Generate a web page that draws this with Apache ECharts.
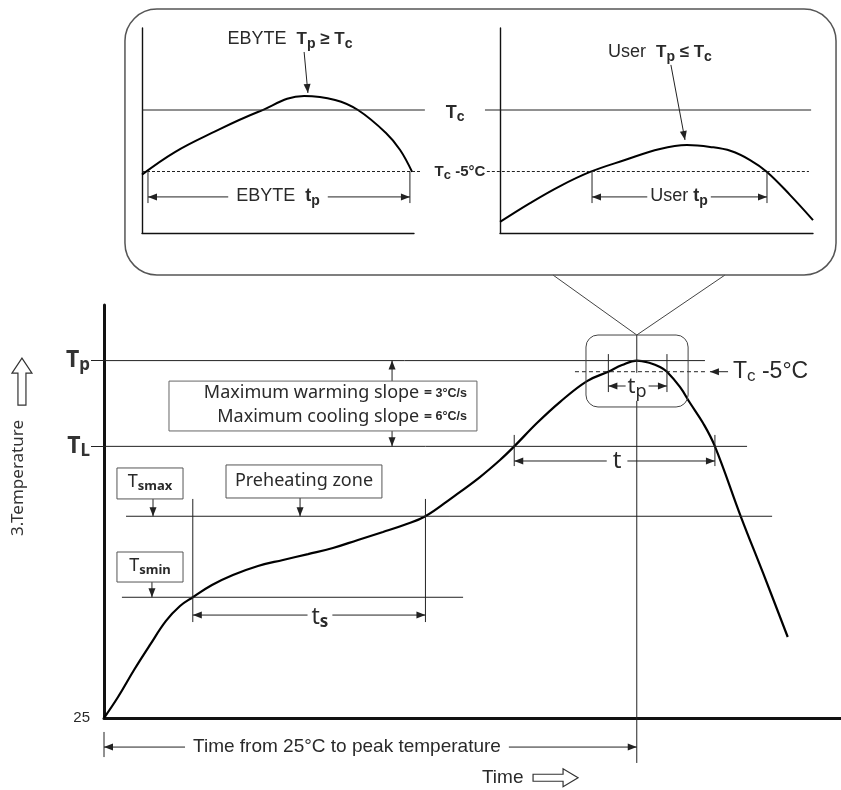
<!DOCTYPE html>
<html>
<head>
<meta charset="utf-8">
<script src="https://cdn.jsdelivr.net/npm/echarts@6/dist/echarts.min.js"></script>
<style>html,body{margin:0;padding:0;background:#fff}#c{width:841px;height:790px}</style>
</head>
<body>
<div id="c"></div>
<script>
// ---------- DATA ----------
// Main reflow profile (time in s, temperature in °C, schematic)
const mainTime = [0, 7.9, 16.9, 25.9, 34.9, 42.8, 50, 60.8, 72.6, 86.7, 100.8, 114.9, 128.9, 143, 157.1, 168.9, 181, 196.5, 211.7, 223, 231, 243.8, 256.7, 272, 284, 291.7, 300, 307.4, 313.1, 317, 324.3, 330, 337.3, 344, 358.7, 371.1, 385];
const mainTemp = [25, 38.2, 55.2, 71, 86.1, 95.5, 101, 108.7, 115, 120.7, 124.5, 128.2, 132, 137.1, 142.1, 146.5, 152, 164.1, 176.7, 187.4, 196, 210.7, 223.9, 237.1, 243, 247.2, 250, 248.5, 246, 243, 233.4, 223.3, 210.7, 196, 151.5, 116.3, 76];
// Zoom panels (relative units)
const ebyteTime = [0, 12.1, 25.7, 42.6, 59.6, 71, 79.4, 89.7, 94.9, 99.3];
const ebyteTemp = [28.5, 39.5, 48.8, 59, 66.8, 64.9, 60, 48.8, 40.5, 29.8];
const userTime = [0, 9.6, 19.2, 28.8, 39.9, 51.1, 59.7, 67.1, 73.8, 79.9, 85.3, 92.7, 100];
const userTemp = [5.4, 14.6, 22.9, 29.8, 35.6, 41, 42.9, 42, 40, 35.6, 29.8, 18.5, 6.3];
// Temperature levels
const levelNames = ['Tp', 'Tc-5', 'TL', 'Tsmax', 'Tsmin'];
const levelTemps = [250, 243, 196, 152, 101];
// Key times
const keyTimeNames = ['tsStart', 'tsEnd', 'tLStart', 'tpStart', 'tPeak', 'tpEnd', 'tLEnd'];
const keyTimes = [50, 181, 231, 284, 300, 317, 344];
// Zoom panel levels
const zoomLevelNames = ['Tc', 'Tc-5'];
const zoomLevels = [60, 30];
const ebyteTpTimes = [2.2, 98.5];
const userTpTimes = [29.4, 85.3];

const [Tp, TcM5, TL, Tsmax, Tsmin] = levelTemps;
const [tsStart, tsEnd, tLStart, tpStart, tPeak, tpEnd, tLEnd] = keyTimes;
const [Tc, Tc5] = zoomLevels;

// ---------- STYLE ----------
const MAIN = "'Noto Sans', 'Open Sans', sans-serif";
const ARIAL = "'Liberation Sans', Arial, sans-serif";
const INK = '#111';
const LINE = '#222';
const TXT = '#2a2a2a';

const chart = echarts.init(document.getElementById('c'), null, {renderer: 'canvas'});

function axisBase(w) {
  return {
    axisLine: {show: true, onZero: false, lineStyle: {color: INK, width: w}},
    axisTick: {show: false}, axisLabel: {show: false}, splitLine: {show: false}
  };
}
const zip = (a, b) => a.map((v, i) => [v, b[i]]);
const curve = (xi, d, w) => ({type: 'line', xAxisIndex: xi, yAxisIndex: xi, data: d, smooth: 0.4,
  symbol: 'none', lineStyle: {color: '#000', width: w}, z: 3});

chart.setOption({
  animation: false,
  backgroundColor: '#fff',
  grid: [
    {left: 104, right: 0, top: 305, bottom: 72},
    {left: 142, top: 28, width: 272, height: 205},
    {left: 500, top: 28, width: 313, height: 205}
  ],
  xAxis: [
    Object.assign({gridIndex: 0, type: 'value', min: 0, max: 415}, axisBase(3)),
    Object.assign({gridIndex: 1, type: 'value', min: 0, max: 100}, axisBase(1.4)),
    Object.assign({gridIndex: 2, type: 'value', min: 0, max: 100}, axisBase(1.4))
  ],
  yAxis: [
    {
      gridIndex: 0, type: 'value', min: 25, max: 285,
      axisLine: {show: true, onZero: false, lineStyle: {color: INK, width: 3}},
      splitLine: {show: false},
      axisTick: {show: true, customValues: [TL, Tp], length: 13, lineStyle: {color: LINE, width: 1}},
      axisLabel: {
        show: true, customValues: [25, TL, Tp], margin: 14,
        formatter: v => v === 25 ? '{n|25}' : (v === TL ? '{T|T}{s|L}' : '{T|T}{s|p}'),
        rich: {
          n: {fontSize: 15, fontFamily: ARIAL, color: TXT},
          T: {fontSize: 23, fontWeight: 'bold', fontFamily: MAIN, color: '#333'},
          s: {fontSize: 17, fontWeight: 'bold', fontFamily: MAIN, color: '#333', padding: [10, 0, 0, 0]}
        }
      }
    },
    Object.assign({gridIndex: 1, type: 'value', min: 0, max: 100}, axisBase(1.4)),
    Object.assign({gridIndex: 2, type: 'value', min: 0, max: 100}, axisBase(1.4))
  ],
  series: [
    curve(0, zip(mainTime, mainTemp), 2.2),
    curve(1, zip(ebyteTime, ebyteTemp), 2),
    curve(2, zip(userTime, userTemp), 2)
  ]
});

// ---------- ANNOTATIONS (placed through the grids' scales) ----------
const G = [];
const px = (g, x, y) => chart.convertToPixel({gridIndex: g}, [x, y]);
function seg(g, x1, y1, x2, y2, st) {
  const a = px(g, x1, y1), b = px(g, x2, y2);
  G.push({type: 'line', z: 5, shape: {x1: a[0], y1: a[1], x2: b[0], y2: b[1]},
          style: Object.assign({stroke: LINE, lineWidth: 1}, st || {})});
  return [a, b];
}
function head(a, b) {
  const dx = b[0] - a[0], dy = b[1] - a[1], L = Math.hypot(dx, dy), ux = dx / L, uy = dy / L;
  const hl = 9, hw = 3.5, bx = b[0] - ux * hl, by = b[1] - uy * hl;
  G.push({type: 'polygon', z: 5, shape: {points: [[b[0], b[1]], [bx - uy * hw, by + ux * hw], [bx + uy * hw, by - ux * hw]]},
          style: {fill: LINE}});
}
function arrow(g, x1, y1, x2, y2, both) {
  const [a, b] = seg(g, x1, y1, x2, y2);
  head(a, b);
  if (both) head(b, a);
}
function box(g, x1, y1, x2, y2, r, fill, st) {
  const a = px(g, x1, y1), b = px(g, x2, y2);
  G.push({type: 'rect', z: 6, shape: {x: Math.min(a[0], b[0]), y: Math.min(a[1], b[1]),
          width: Math.abs(b[0] - a[0]), height: Math.abs(b[1] - a[1]), r: r || 0},
          style: Object.assign({fill: fill === undefined ? '#fff' : fill, stroke: '#444', lineWidth: 1}, st || {})});
}
function label(g, x, y, text, st, extra) {
  const a = px(g, x, y);
  G.push(Object.assign({type: 'text', z: 7, x: a[0], y: a[1],
          style: Object.assign({text: text, align: 'center', verticalAlign: 'middle', fill: TXT,
                                fontFamily: MAIN, fontSize: 18}, st)}, extra || {}));
}
const sub = (fs, w, pad, fam) => ({fontSize: fs, fontWeight: w || 'normal', fontFamily: fam || MAIN, fill: TXT, padding: [pad, 0, 0, 0]});
const big = (fs, w, fam) => ({fontSize: fs, fontWeight: w || 'normal', fontFamily: fam || MAIN, fill: TXT});

// --- callout frame and pointer
box(0, 11.8, 471.3, 412.2, 303.9, 32, 'none', {stroke: '#555', lineWidth: 1.5});
seg(0, 252.8, 303.9, tPeak, 266.1, {stroke: '#444'});
seg(0, 349.7, 303.9, tPeak, 266.1, {stroke: '#444'});
box(0, 271.4, 266.1, 328.9, 220.8, 12, 'none', {stroke: '#444'});

// --- level lines
seg(0, 0, Tp, 338.4, Tp);
seg(0, 0, TL, 362.1, TL);
seg(0, 12.4, Tsmax, 376.2, Tsmax);
seg(0, 10.1, Tsmin, 202.2, Tsmin);
seg(0, 265.2, TcM5, 338.4, TcM5, {lineDash: [4, 3]});
seg(0, tPeak, 266.1, tPeak, -3.3);

// --- preheating window ts
seg(0, tsStart, 162.9, tsStart, 85.4);
seg(0, tsEnd, 162.9, tsEnd, 85.4);
arrow(0, tsStart, 89.8, tsEnd, 89.8, true);
label(0, 121.6, 88.5, '{a|t}{b|s}', {rich: {a: big(23), b: sub(17, 'bold', 10)}, backgroundColor: '#fff', padding: [0, 4]});

// --- time above liquidus t
seg(0, tLStart, 203.2, tLStart, 183.6);
seg(0, tLEnd, 203.2, tLEnd, 183.6);
arrow(0, tLStart, 186.8, tLEnd, 186.8, true);
label(0, 288.9, 186.5, 't', {fontSize: 24, backgroundColor: '#fff', padding: [0, 6]});

// --- tp at peak
seg(0, tpStart, 254.1, tpStart, 230.2);
seg(0, tpEnd, 254.1, tpEnd, 230.2);
arrow(0, tpStart, 234, tpEnd, 234, true);
label(0, 300.2, 233.5, '{a|t}{b|p}', {rich: {a: big(22), b: sub(18, 'normal', 10)}, backgroundColor: '#fff', padding: [0, 2]});

// --- Tc -5°C pointer
arrow(0, 351.4, TcM5, 341.2, TcM5);
label(0, 354.2, TcM5, '{a|T}{b|c}{a| -5°C}', {align: 'left', rich: {a: big(23, 'normal', ARIAL), b: sub(17, 'normal', 10, ARIAL)}});

// --- slope box
arrow(0, 162.2, Tp, 162.2, TL, true);
box(0, 36.6, 237.1, 210, 205.7, 0, '#fff', {stroke: '#666'});
label(0, 204.4, 229.5, '{m|Maximum warming slope }{e|= }{b|3°C/s}',
      {align: 'right', rich: {m: big(18), e: big(14, 'bold'), b: big(12.5, 'bold', ARIAL)}});
label(0, 204.4, 214.5, '{m|Maximum cooling slope }{e|= }{b|6°C/s}',
      {align: 'right', rich: {m: big(18), e: big(14, 'bold'), b: big(12.5, 'bold', ARIAL)}});

// --- Tsmax / Preheating / Tsmin boxes
box(0, 7.3, 182.4, 44.5, 162.9, 0, '#fff', {stroke: '#555'});
label(0, 25.9, 173.5, '{a|T}{b|smax}', {rich: {a: big(18), b: sub(13, 'bold', 9)}});
arrow(0, 27.6, 162.9, 27.6, Tsmax);
box(0, 68.7, 184.3, 156.5, 163.5, 0, '#fff', {stroke: '#555'});
label(0, 112.6, 174.5, 'Preheating zone', {fontSize: 18});
arrow(0, 110.4, 163.5, 110.4, Tsmax);
box(0, 7.3, 129.5, 44.5, 110.6, 0, '#fff', {stroke: '#555'});
label(0, 25.9, 121, '{a|T}{b|smin}', {rich: {a: big(18), b: sub(13, 'bold', 9)}});
arrow(0, 27, 110.6, 27, Tsmin);

// --- time from 25 °C to peak
seg(0, 0, 16.2, 0, 0.4);
arrow(0, 0, 6.7, tPeak, 6.7, true);
label(0, 136.8, 6.9, 'Time from 25°C to peak temperature',
      {fontFamily: ARIAL, fontSize: 19, backgroundColor: '#fff', padding: [0, 8]});

// --- axis titles with hollow arrows
label(0, 224.5, -12.4, 'Time', {fontFamily: ARIAL, fontSize: 19, align: 'center'});
(function () {
  const a = px(0, 241.6, -12.6), x = a[0], y = a[1];
  G.push({type: 'polygon', z: 7, shape: {points: [[x, y - 3.5], [x + 30, y - 3.5], [x + 30, y - 9], [x + 45, y],
          [x + 30, y + 9], [x + 30, y + 3.5], [x, y + 3.5]]}, style: {fill: '#fff', stroke: '#333', lineWidth: 1.2}});
  const b = px(0, -46.2, 251.6), u = b[0], v = b[1];
  G.push({type: 'polygon', z: 7, shape: {points: [[u, v], [u + 10, v + 15], [u + 4, v + 15], [u + 4, v + 47],
          [u - 4, v + 47], [u - 4, v + 15], [u - 10, v + 15]]}, style: {fill: '#fff', stroke: '#333', lineWidth: 1.2}});
})();
label(0, -48.4, 176.1, '3.Temperature', {fontSize: 17, fill: '#333'}, {rotation: Math.PI / 2});

// --- zoom panel: EBYTE
seg(1, 0, Tc, 104, Tc);
seg(1, 0, Tc5, 102.6, Tc5, {lineDash: [3, 2]});
label(1, 115.1, 58.5, '{a|T}{b|c}', {rich: {a: big(18, 'bold', ARIAL), b: sub(14, 'bold', 9, ARIAL)}});
label(1, 116.9, 30, '{a|T}{b|c}{a| -5°C}', {rich: {a: big(15, 'bold', ARIAL), b: sub(13, 'bold', 8, ARIAL)}});
label(1, 54.4, 94.5, '{e|EBYTE  }{a|T}{b|p}{a| ≥ T}{b|c}',
      {rich: {e: big(18, 'normal', ARIAL), a: big(17, 'bold', ARIAL), b: sub(14, 'bold', 9, ARIAL)}});
arrow(1, 59.6, 88.3, 61, 68.3);
seg(1, ebyteTpTimes[0], Tc5, ebyteTpTimes[0], 14.6);
seg(1, ebyteTpTimes[1], Tc5, ebyteTpTimes[1], 14.6);
arrow(1, ebyteTpTimes[0], 17.6, ebyteTpTimes[1], 17.6, true);
label(1, 50, 17.8, '{e|EBYTE  }{a|t}{b|p}',
      {backgroundColor: '#fff', padding: [0, 8], rich: {e: big(18, 'normal', ARIAL), a: big(18, 'bold', ARIAL), b: sub(14, 'bold', 9, ARIAL)}});

// --- zoom panel: User
seg(2, -4.8, Tc, 99.4, Tc);
seg(2, -4.2, Tc5, 98.7, Tc5, {lineDash: [3, 2]});
label(2, 51.1, 88.2, '{e|User  }{a|T}{b|p}{a| ≤ T}{b|c}',
      {rich: {e: big(18, 'normal', ARIAL), a: big(17, 'bold', ARIAL), b: sub(14, 'bold', 9, ARIAL)}});
arrow(2, 54.6, 82, 59.1, 45.4);
seg(2, userTpTimes[0], Tc5, userTpTimes[0], 14.6);
seg(2, userTpTimes[1], Tc5, userTpTimes[1], 14.6);
arrow(2, userTpTimes[0], 17.6, userTpTimes[1], 17.6, true);
label(2, 57.2, 17.8, '{e|User }{a|t}{b|p}',
      {backgroundColor: '#fff', padding: [0, 3], rich: {e: big(18, 'normal', ARIAL), a: big(18, 'bold', ARIAL), b: sub(14, 'bold', 9, ARIAL)}});

chart.setOption({graphic: {elements: G}});
</script>
</body>
</html>
